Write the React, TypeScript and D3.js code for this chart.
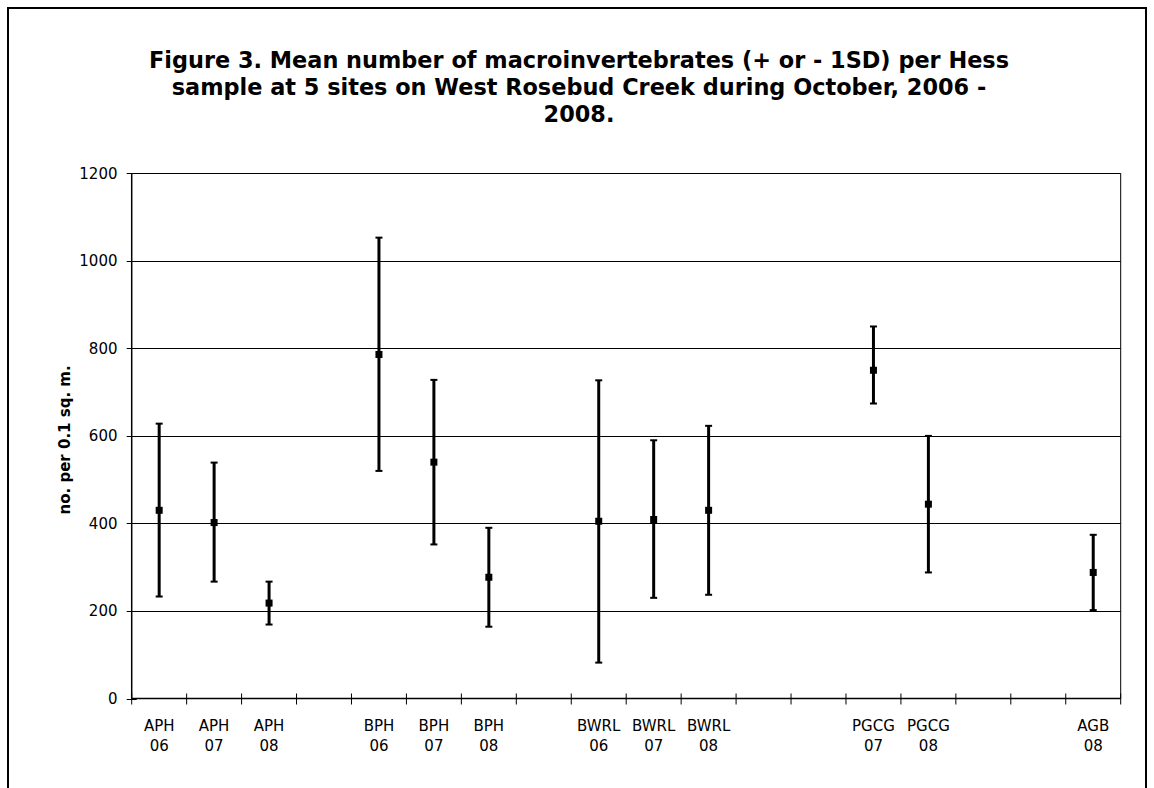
import React, { useRef, useEffect } from 'react'
import * as d3 from 'd3'

// category labels (blank slots are empty positions on the axis)
const categories = [
	'APH 06', 'APH 07', 'APH 08', '',
	'BPH 06', 'BPH 07', 'BPH 08', '',
	'BWRL 06', 'BWRL 07', 'BWRL 08', '', '',
	'PGCG 07', 'PGCG 08', '', '',
	'AGB 08',
]
const means = [430, 402, 218, null, 786, 540, 277, null, 405, 409, 430, null, null, 750, 444, null, null, 288]
const errPlus = [198, 137, 49, null, 267, 188, 113, null, 322, 181, 193, null, null, 100, 156, null, null, 86]
const errMinus = [197, 135, 49, null, 266, 188, 113, null, 323, 179, 193, null, null, 76, 156, null, null, 86]
const yTicks = [0, 200, 400, 600, 800, 1000, 1200]
const titleLines = [
	'Figure 3. Mean number of macroinvertebrates (+ or - 1SD) per Hess',
	'sample at 5 sites on West Rosebud Creek during October, 2006 -',
	'2008.',
]

const FONT = "'DejaVu Sans', Verdana, sans-serif"

const App = () => {
	const svgRef = useRef(null)

	useEffect(() => {
		const svg = d3.select(svgRef.current)
		svg.selectAll('*').remove()

		const left = 131.7, right = 1120.7, top = 173.3, bottom = 698.5

		// outer frame
		svg.append('rect')
			.attr('x', 8).attr('y', 8)
			.attr('width', 1138).attr('height', 800)
			.attr('fill', 'white')
			.attr('stroke', '#000')
			.attr('stroke-width', 2)

		// title
		svg.append('text')
			.attr('text-anchor', 'middle')
			.style('font-family', FONT)
			.style('font-weight', 'bold')
			.style('font-size', '22.4px')
			.selectAll('tspan')
			.data(titleLines)
			.join('tspan')
			.attr('x', 579)
			.attr('y', (d, i) => 68 + i * 27)
			.text((d) => d)

		const ids = categories.map((d, i) => String(i))
		const x = d3.scaleBand().domain(ids).range([left, right])
		const y = d3.scaleLinear().domain([0, 1200]).range([bottom, top])

		// gridlines
		svg.append('g')
			.selectAll('line')
			.data(yTicks.filter((d) => d > 0))
			.join('line')
			.attr('x1', left).attr('x2', right)
			.attr('y1', (d) => Math.round(y(d)) + 0.5)
			.attr('y2', (d) => Math.round(y(d)) + 0.5)
			.attr('stroke', '#000')
			.attr('stroke-width', 1)

		// right border of plot
		svg.append('line')
			.attr('x1', right).attr('x2', right)
			.attr('y1', top).attr('y2', bottom)
			.attr('stroke', '#000')

		// y axis
		const yAxis = svg.append('g')
		yAxis.append('line')
			.attr('x1', left).attr('x2', left)
			.attr('y1', top).attr('y2', bottom)
			.attr('stroke', '#000').attr('stroke-width', 1.5)
		yAxis.selectAll('line.tick')
			.data(yTicks)
			.join('line')
			.attr('class', 'tick')
			.attr('x1', left - 5).attr('x2', left + 5)
			.attr('y1', (d) => Math.round(y(d)) + 0.5)
			.attr('y2', (d) => Math.round(y(d)) + 0.5)
			.attr('stroke', '#000')
		yAxis.selectAll('text')
			.data(yTicks)
			.join('text')
			.attr('x', 117.5)
			.attr('y', (d) => y(d))
			.attr('dy', '0.35em')
			.attr('text-anchor', 'end')
			.style('font-family', FONT)
			.style('font-size', '15px')
			.text((d) => d)

		svg.append('text')
			.attr('transform', `translate(70, ${(top + bottom) / 2 + 4}) rotate(-90)`)
			.attr('text-anchor', 'middle')
			.style('font-family', FONT)
			.style('font-weight', 'bold')
			.style('font-size', '15px')
			.text('no. per 0.1 sq. m.')

		// x axis
		const xAxis = svg.append('g')
		xAxis.append('line')
			.attr('x1', left).attr('x2', right)
			.attr('y1', bottom).attr('y2', bottom)
			.attr('stroke', '#000').attr('stroke-width', 1.5)
		xAxis.selectAll('line.tick')
			.data([...ids, 'end'])
			.join('line')
			.attr('class', 'tick')
			.attr('x1', (d) => (d === 'end' ? right : x(d)))
			.attr('x2', (d) => (d === 'end' ? right : x(d)))
			.attr('y1', bottom - 5).attr('y2', bottom + 6)
			.attr('stroke', '#000')
		const lbl = xAxis.selectAll('text')
			.data(categories.map((c, i) => ({ c, id: ids[i] })).filter((d) => d.c))
			.join('text')
			.attr('text-anchor', 'middle')
			.style('font-family', FONT)
			.style('font-size', '15px')
		lbl.selectAll('tspan')
			.data((d) => d.c.split(' ').map((t) => ({ t, id: d.id })))
			.join('tspan')
			.attr('x', (d) => x(d.id) + x.bandwidth() / 2)
			.attr('y', (d, i) => 730.5 + i * 20.5)
			.text((d) => d.t)

		// error bars and markers
		const pts = means
			.map((m, i) => ({ id: ids[i], m, p: errPlus[i], n: errMinus[i] }))
			.filter((d) => d.m !== null)
		const cx = (d) => x(d.id) + x.bandwidth() / 2

		const g = svg.append('g')
		g.selectAll('line.bar')
			.data(pts)
			.join('line')
			.attr('x1', cx).attr('x2', cx)
			.attr('y1', (d) => y(d.m + d.p))
			.attr('y2', (d) => y(d.m - d.n))
			.attr('stroke', '#000')
			.attr('stroke-width', 3)
		g.selectAll('line.capTop')
			.data(pts)
			.join('line')
			.attr('class', 'capTop')
			.attr('x1', (d) => cx(d) - 3.5).attr('x2', (d) => cx(d) + 3.5)
			.attr('y1', (d) => y(d.m + d.p))
			.attr('y2', (d) => y(d.m + d.p))
			.attr('stroke', '#000')
			.attr('stroke-width', 2)
		g.selectAll('line.capBot')
			.data(pts)
			.join('line')
			.attr('class', 'capBot')
			.attr('x1', (d) => cx(d) - 3.5).attr('x2', (d) => cx(d) + 3.5)
			.attr('y1', (d) => y(d.m - d.n))
			.attr('y2', (d) => y(d.m - d.n))
			.attr('stroke', '#000')
			.attr('stroke-width', 2)
		g.selectAll('rect')
			.data(pts)
			.join('rect')
			.attr('x', (d) => cx(d) - 3.5)
			.attr('y', (d) => y(d.m) - 3.5)
			.attr('width', 7)
			.attr('height', 7)
			.attr('fill', '#000')
	}, [])

	return (
		<svg
			ref={svgRef}
			width={1154}
			height={788}
			style={{ position: 'absolute', left: 0, top: 0, background: 'white' }}
		></svg>
	)
}

export default App
